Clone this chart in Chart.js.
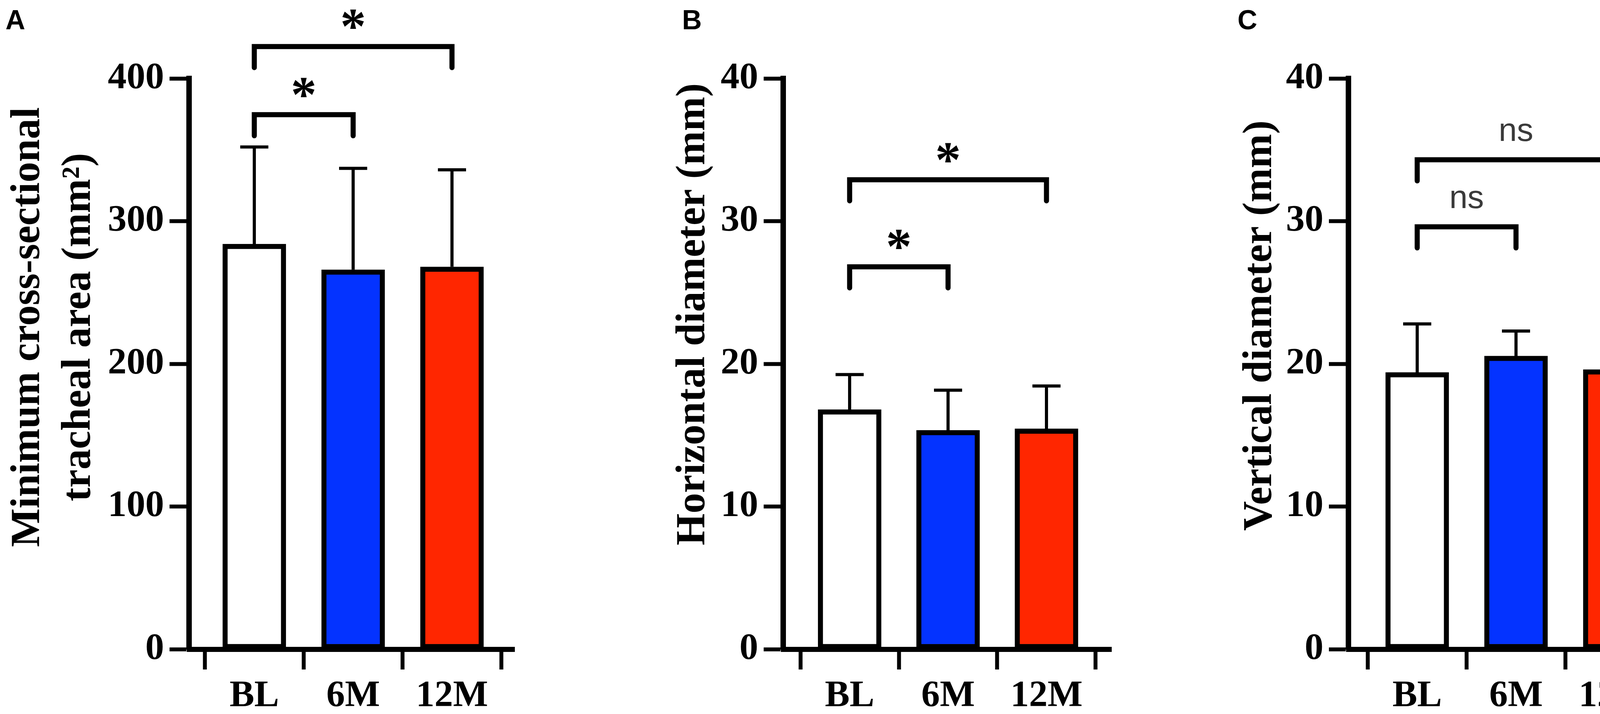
<!DOCTYPE html>
<html>
<head>
<meta charset="utf-8">
<script src="https://cdn.jsdelivr.net/npm/chart.js@4.4.1/dist/chart.umd.min.js"></script>
<style>
  html, body { margin: 0; padding: 0; background: #fff; }
  #wrap { position: relative; width: 4317px; height: 1829px; }
  canvas { position: absolute; top: 0; }
</style>
</head>
<body>
<div id="wrap">
  <canvas id="chartA" width="1440" height="1829" style="left:0px"></canvas>
  <canvas id="chartB" width="1440" height="1829" style="left:1440px"></canvas>
  <canvas id="chartC" width="1437" height="1829" style="left:2880px"></canvas>
</div>
<script>
// categories and colours
const categories = ['BL', '6M', '12M'];
const barColors = ['#FFFFFF', '#0433FF', '#FF2600'];

// A - minimum cross-sectional tracheal area (mm2)
const areaMean = [284, 266, 268];
const areaSD = [68, 71, 68];
const areaTicks = [0, 100, 200, 300, 400];
const areaSig = [[0, 1, 374.6, '*'], [0, 2, 422.4, '*']]; // from, to, bracket y, label

// B - horizontal diameter (mm)
const horizMean = [16.8, 15.35, 15.45];
const horizSD = [2.45, 2.8, 3.0];
const horizTicks = [0, 10, 20, 30, 40];
const horizSig = [[0, 1, 26.8, '*'], [0, 2, 32.9, '*']];

// C - vertical diameter (mm)
const vertMean = [19.4, 20.55, 19.6];
const vertSD = [3.4, 1.75, 2.9];
const vertTicks = [0, 10, 20, 30, 40];
const vertSig = [[0, 1, 29.6, 'ns'], [0, 2, 34.3, 'ns']];

const serif = '"Liberation Serif", "Times New Roman", serif';
const sans = '"Liberation Sans", Arial, sans-serif';
const AXIS_BOTTOM = 1663;
const AXIS_TOP = 201;

// centre a glyph on (cx, cy) using its real ink box
function drawCentered(ctx, text, cx, cy) {
  const m = ctx.measureText(text);
  const h = m.actualBoundingBoxAscent + m.actualBoundingBoxDescent;
  ctx.fillText(text, cx, cy + h / 2 - m.actualBoundingBoxDescent);
}

function makePanel(cfg) {
  const canvas = document.getElementById(cfg.id);
  const W = canvas.width, H = canvas.height;

  const extras = {
    id: 'extras',
    afterDatasetsDraw(chart) {
      const ctx = chart.ctx;
      const xs = chart.scales.x, ys = chart.scales.y;
      ctx.save();
      // error bars (upper only)
      ctx.strokeStyle = '#000';
      ctx.lineWidth = 8;
      cfg.mean.forEach((m, i) => {
        const x = xs.getPixelForValue(i);
        const y0 = ys.getPixelForValue(m);
        const y1 = ys.getPixelForValue(m + cfg.sd[i]);
        ctx.beginPath();
        ctx.moveTo(x, y0);
        ctx.lineTo(x, y1);
        ctx.moveTo(x - 36, y1);
        ctx.lineTo(x + 36, y1);
        ctx.stroke();
      });
      ctx.restore();
    },
    afterDraw(chart) {
      const ctx = chart.ctx;
      const xs = chart.scales.x, ys = chart.scales.y;
      ctx.save();
      // significance brackets
      ctx.strokeStyle = '#000';
      ctx.lineWidth = 13;
      ctx.lineJoin = 'miter';
      ctx.lineCap = 'round';
      cfg.sig.forEach(([a, b, yv, label]) => {
        const x0 = xs.getPixelForValue(a);
        const x1 = xs.getPixelForValue(b);
        const y = ys.getPixelForValue(yv);
        ctx.beginPath();
        ctx.moveTo(x0, y + 54);
        ctx.lineTo(x0, y);
        ctx.lineTo(x1, y);
        ctx.lineTo(x1, y + 54);
        ctx.stroke();
        ctx.textAlign = 'center';
        ctx.textBaseline = 'alphabetic';
        if (label === 'ns') {
          ctx.fillStyle = '#3a3a3a';
          ctx.font = '84px ' + sans;
        } else {
          ctx.fillStyle = '#000';
          ctx.font = 'bold 132px ' + serif;
        }
        drawCentered(ctx, label, (x0 + x1) / 2, y - 70);
      });

      // y axis title
      ctx.fillStyle = '#000';
      ctx.font = 'bold 105px ' + serif;
      ctx.textAlign = 'center';
      ctx.textBaseline = 'alphabetic';
      cfg.title.forEach((line, k) => {
        ctx.save();
        ctx.translate(cfg.titleX[k], cfg.titleY);
        ctx.rotate(-Math.PI / 2);
        ctx.fillText(line, 0, 0);
        ctx.restore();
      });

      // panel letter
      ctx.font = 'bold 70px ' + sans;
      ctx.textAlign = 'left';
      ctx.fillText(cfg.letter, cfg.letterX, 75);
      ctx.restore();
    }
  };

  return new Chart(canvas, {
    type: 'bar',
    data: {
      datasets: [{
        data: cfg.mean.map((v, i) => ({ x: i, y: v })),
        backgroundColor: barColors,
        borderColor: '#000',
        borderWidth: 13,
        borderSkipped: false,
        barThickness: 162
      }]
    },
    options: {
      responsive: false,
      animation: false,
      devicePixelRatio: 1,
      layout: { padding: { left: 0, right: W - cfg.right, top: AXIS_TOP, bottom: 0 } },
      plugins: { legend: { display: false }, tooltip: { enabled: false } },
      scales: {
        x: {
          type: 'linear',
          min: cfg.xMin,
          max: cfg.xMax,
          offset: false,
          afterBuildTicks: (s) => { s.ticks = categories.map((c, i) => ({ value: i })); },
          afterFit: (s) => { s.height = H - AXIS_BOTTOM; },
          grid: { display: true, drawOnChartArea: false, drawTicks: true, tickLength: 52, tickWidth: 10, tickColor: '#000', color: '#000' },
          border: { display: true, color: '#000', width: 13 },
          ticks: {
            callback: (v) => categories[v] ?? '',
            padding: 12,
            color: '#000',
            autoSkip: false,
            maxRotation: 0,
            font: { family: serif, weight: 'bold', size: 95 }
          }
        },
        y: {
          min: 0,
          max: cfg.ticks[cfg.ticks.length - 1],
          afterBuildTicks: (s) => { s.ticks = cfg.ticks.map((v) => ({ value: v })); },
          afterFit: (s) => { s.width = cfg.axisX; },
          grid: { display: true, drawOnChartArea: false, drawTicks: true, tickLength: 50, tickWidth: 10, tickColor: '#000', color: '#000' },
          border: { display: true, color: '#000', width: 14 },
          ticks: {
            padding: 14,
            color: '#000',
            font: { family: serif, weight: 'bold', size: 96 }
          }
        }
      }
    },
    plugins: [extras]
  });
}

makePanel({
  id: 'chartA', mean: areaMean, sd: areaSD, ticks: areaTicks, sig: areaSig,
  axisX: 484, right: 1317, xMin: -0.66, xMax: 2.632,
  title: ['Minimum cross-sectional', 'tracheal area (mm\u00B2)'], titleX: [100, 230], titleY: 838,
  letter: 'A', letterX: 14
});
makePanel({
  id: 'chartB', mean: horizMean, sd: horizSD, ticks: horizTicks, sig: horizSig,
  axisX: 565, right: 1405, xMin: -0.675, xMax: 2.659,
  title: ['Horizontal diameter (mm)'], titleX: [363], titleY: 805,
  letter: 'B', letterX: 306
});
makePanel({
  id: 'chartC', mean: vertMean, sd: vertSD, ticks: vertTicks, sig: vertSig,
  axisX: 572, right: 1412, xMin: -0.696, xMax: 2.625,
  title: ['Vertical diameter (mm)'], titleX: [374], titleY: 834,
  letter: 'C', letterX: 288
});
</script>
</body>
</html>
